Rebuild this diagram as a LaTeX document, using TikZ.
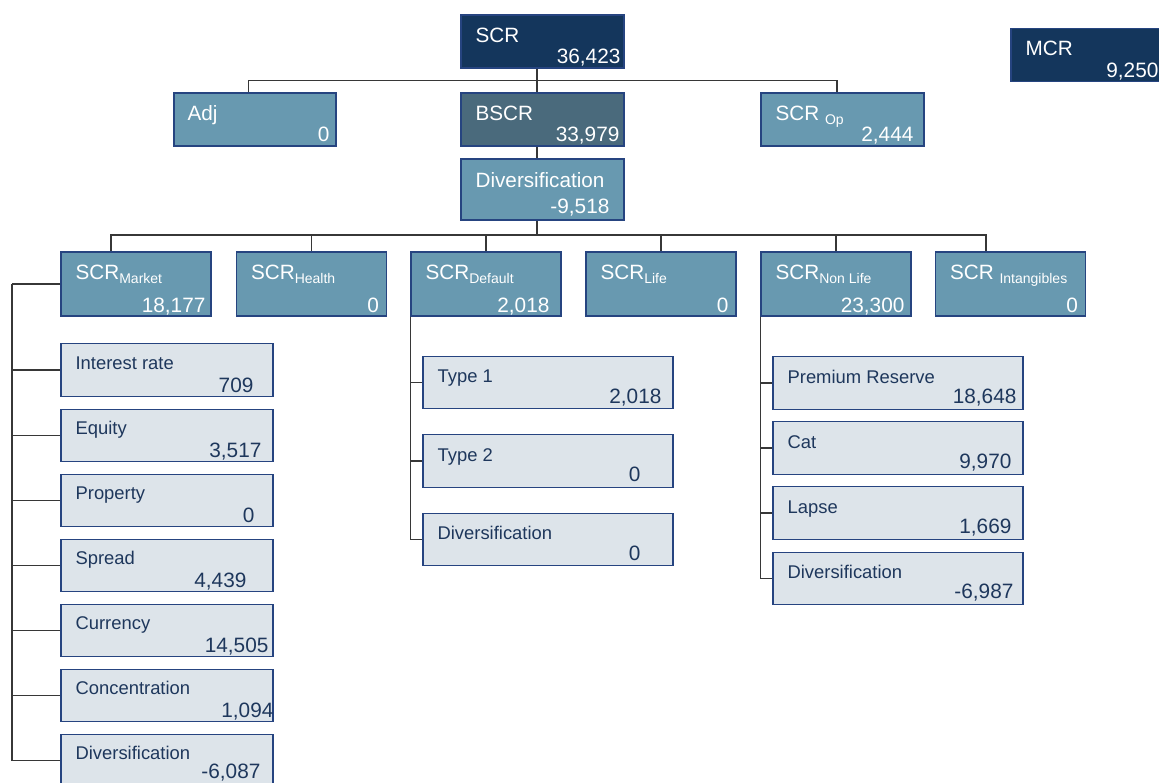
\documentclass[tikz,border=0pt]{standalone}
\usepackage{fontspec}
\setmainfont{Liberation Sans}
\usepackage{tikz}
\usetikzlibrary{calc}

\definecolor{scrnavy}{RGB}{20,54,92}
\definecolor{scrsteel}{RGB}{104,153,176}
\definecolor{scrslate}{RGB}{74,106,124}
\definecolor{scrpale}{RGB}{221,228,234}
\definecolor{scrline}{RGB}{38,68,128}
\definecolor{scrtext}{RGB}{30,55,92}
\definecolor{scrwire}{RGB}{55,55,55}

\newcommand{\riskidx}[1]{\raisebox{-4pt}{\fontsize{14}{14}\selectfont #1}}

\begin{document}
\begin{tikzpicture}[x=1pt,y=-1pt,
  wire/.style={draw=scrwire, line width=1.3pt},
  box/.style={draw=scrline, line width=1.2pt, inner sep=0pt},
  topbox/.style={box, minimum width=163pt, minimum height=53pt},
  rowbox/.style={box, fill=scrsteel, minimum width=150pt, minimum height=64pt},
  leafbox/.style={box, fill=scrpale, minimum height=52.5pt},
  lab/.style={anchor=base west, inner sep=0pt, text=white, font=\fontsize{20.7}{20.7}\selectfont},
  val/.style={anchor=base east, inner sep=0pt, text=white, font=\fontsize{20.8}{20.8}\selectfont},
  leaflab/.style={lab, text=scrtext, font=\fontsize{18.4}{18.4}\selectfont},
  leafval/.style={val, text=scrtext}]
\useasboundingbox (0,0) rectangle (1159,783);
\clip (0,0) rectangle (1159,783);

% top level
\node[topbox, fill=scrnavy] (scr) at (542.5,41.5) {};
\node[lab] (scr-l) at ([shift={(15,28)}]scr.north west) {SCR};
\node[val] (scr-v) at ([shift={(-4,-5)}]scr.south east) {36,423};

\node[topbox, fill=scrnavy] (mcr) at (1092.5,55) {};
\node[lab] (mcr-l) at ([shift={(15,28)}]mcr.north west) {MCR};
\node[val] (mcr-v) at ([shift={(-16,-5)}]mcr.south east) {9,250};

\node[topbox, fill=scrsteel, minimum width=162pt] (adj) at (255,119.5) {};
\node[lab] (adj-l) at ([shift={(14,28)}]adj.north west) {Adj};
\node[val] (adj-v) at ([shift={(-7,-5)}]adj.south east) {0};

\node[topbox, fill=scrslate] (bscr) at (542.5,119.5) {};
\node[lab] (bscr-l) at ([shift={(15,28)}]bscr.north west) {BSCR};
\node[val] (bscr-v) at ([shift={(-5,-5)}]bscr.south east) {33,979};

\node[topbox, fill=scrsteel] (op) at (842.5,119.5) {};
\node[lab] (op-l) at ([shift={(15,28)}]op.north west) {SCR \riskidx{Op}};
\node[val] (op-v) at ([shift={(-11,-5)}]op.south east) {2,444};

\node[topbox, fill=scrsteel, minimum height=61pt] (dv) at (542.5,189.5) {};
\node[lab] (dv-l) at ([shift={(15,29)}]dv.north west) {Diversification};
\node[val] (dv-v) at ([shift={(-15,-7)}]dv.south east) {-9,518};

\draw[wire] ([xshift=-5.5pt]scr.south) -- ++(0,12) coordinate (topbus) -- ([xshift=-5.5pt]bscr.north);
\draw[wire] (topbus) -| ([xshift=-6.5pt]adj.north);
\draw[wire] (topbus) -| ([xshift=-5.5pt]op.north);
\draw[wire] ([xshift=-5.5pt]bscr.south) -- ([xshift=-5.5pt]dv.north);
\draw[wire] ([xshift=-5.5pt]dv.south) -- ++(0,14.5) coordinate (rowbus);

% modules
\foreach \nm/\xx/\dx/\lab/\val/\off in {
    mkt/136/-25/SCR\riskidx{Market}/{18,177}/6,
    hlt/311.5/0/SCR\riskidx{Health}/0/8,
    dfl/486/0/SCR\riskidx{Default}/{2,018}/12,
    lif/661/0/SCR\riskidx{Life}/0/8,
    nlf/836/0/SCR\riskidx{Non Life}/{23,300}/7,
    itg/1010.5/-24.5/SCR \riskidx{Intangibles}/0/8} {
  \node[rowbox] (\nm) at (\xx,284) {};
  \node[lab] (\nm-l) at ([shift={(15,28)}]\nm.north west) {\lab};
  \node[val] (\nm-v) at ([shift={(-\off,-4.5)}]\nm.south east) {\val};
  \draw[wire] (rowbus) -| ([xshift=\dx pt]\nm.north);
}

% market sub-modules
\draw[wire] (mkt.west) -- (12,284) coordinate (mtrunk);
\foreach \nm/\yy/\lab/\val/\off/\dy in {
    ir/370/Interest rate/709/20/4.5,
    eq/435.5/Equity/{3,517}/12/4.5,
    pr/500.5/Property/0/19/4.5,
    sp/565.5/Spread/{4,439}/27/4.5,
    cu/630.5/Currency/{14,505}/5/4.5,
    co/695.5/Concentration/{1,094}/0/4.5,
    di/760.5/Diversification/{-6,087}/13/9} {
  \node[leafbox, minimum width=212pt] (mk-\nm) at (167,\yy) {};
  \node[leaflab] (mk-\nm-l) at ([shift={(15,26)}]mk-\nm.north west) {\lab};
  \node[leafval] (mk-\nm-v) at ([shift={(-\off,-\dy)}]mk-\nm.south east) {\val};
  \draw[wire] (mtrunk) |- (mk-\nm.west);
}

% counterparty default
\foreach \nm/\yy/\lab/\val/\off in {
    t1/382.5/Type 1/{2,018}/12,
    t2/461/Type 2/0/33,
    di/539.5/Diversification/0/33} {
  \node[leafbox, minimum width=250pt] (df-\nm) at (548,\yy) {};
  \node[leaflab] (df-\nm-l) at ([shift={(15,27)}]df-\nm.north west) {\lab};
  \node[leafval] (df-\nm-v) at ([shift={(-\off,-6)}]df-\nm.south east) {\val};
  \draw[wire] (dfl.south west) |- (df-\nm.west);
}

% non life
\foreach \nm/\yy/\lab/\val/\off in {
    pr/383/Premium Reserve/{18,648}/7,
    ct/448/Cat/{9,970}/12,
    lp/513/Lapse/{1,669}/12,
    di/578.5/Diversification/{-6,987}/10} {
  \node[leafbox, minimum width=250pt] (nl-\nm) at (898,\yy) {};
  \node[leaflab] (nl-\nm-l) at ([shift={(15,27)}]nl-\nm.north west) {\lab};
  \node[leafval] (nl-\nm-v) at ([shift={(-\off,-6.5)}]nl-\nm.south east) {\val};
  \draw[wire] (nlf.south west) |- (nl-\nm.west);
}
\end{tikzpicture}
\end{document}
